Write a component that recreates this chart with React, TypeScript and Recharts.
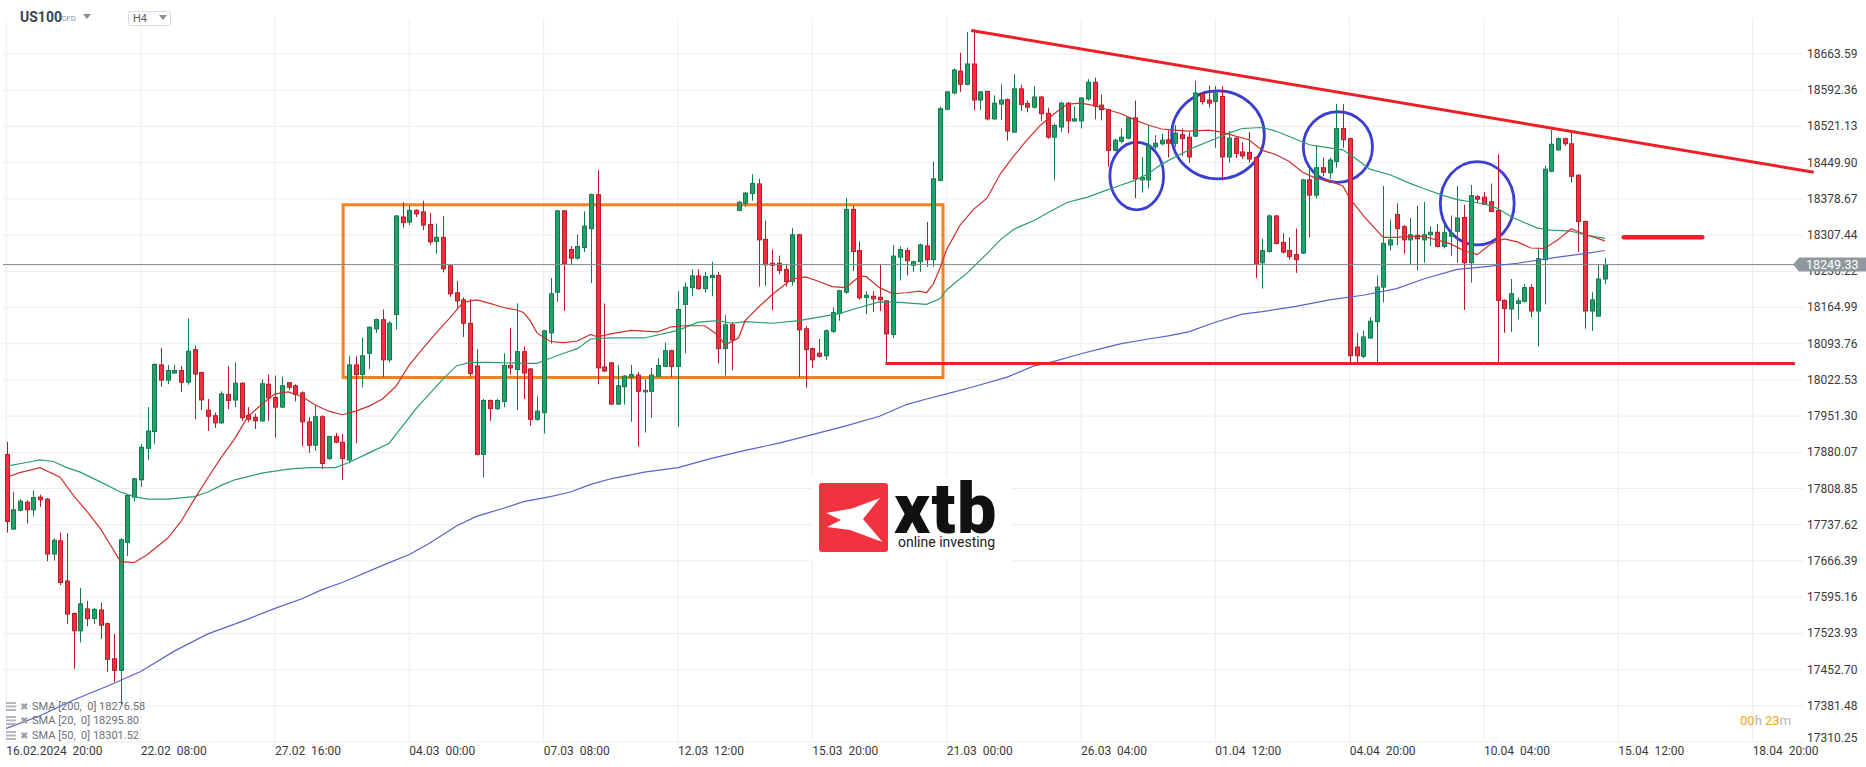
import React from 'react';
import {
  Bar,
  CartesianGrid,
  ComposedChart,
  Line,
  ReferenceArea,
  ReferenceLine,
  XAxis,
  YAxis
} from 'recharts';

// US100 H4 candles, 16.02.2024 20:00 onwards
const opens = [
  17876, 17729, 17766, 17782, 17767, 17792, 17788, 17680, 17706, 17627,
  17563, 17529, 17572, 17553, 17570, 17543, 17474, 17451, 17703, 17792,
  17826, 17888, 17921, 18052, 18022, 18036, 18041, 18018, 18082, 18037,
  17963, 17952, 17938, 17994, 17983, 18016, 17953, 17949, 17942, 18014,
  17988, 17969, 18017, 18011, 17997, 17940, 17894, 17950, 17868, 17911,
  17900, 17865, 18052, 18033, 18075, 18123, 18141, 18062, 18151, 18343,
  18333, 18356, 18353, 18328, 18295, 18303, 18247, 18194, 18180, 18134,
  18050, 17876, 17982, 17966, 17980, 18051, 18043, 18078, 18044, 17945,
  17958, 18115, 18195, 18355, 18279, 18262, 18283, 18320, 18387, 18048,
  18056, 17975, 18009, 18028, 18032, 17999, 18000, 18030, 18049, 18080,
  18049, 18171, 18204, 18227, 18202, 18224, 18228, 18084, 18131, 18356,
  18370, 18389, 18408, 18299, 18252, 18252, 18240, 18216, 18308, 18123,
  18084, 18075, 18070, 18118, 18153, 18195, 18358, 18277, 18185, 18187,
  18185, 18178, 18112, 18264, 18277, 18248, 18255, 18286, 18259, 18415,
  18555, 18587, 18630, 18604, 18644, 18573, 18590, 18536, 18565, 18574,
  18510, 18595, 18566, 18559, 18579, 18547, 18500, 18520, 18567, 18532,
  18532, 18575, 18608, 18563, 18554, 18474, 18492, 18498, 18538, 18416,
  18416, 18481, 18487, 18495, 18488, 18505, 18500, 18502, 18585, 18573,
  18570, 18580, 18461, 18498, 18471, 18470, 18460, 18253, 18275, 18345,
  18293, 18277, 18269, 18272, 18416, 18386, 18440, 18430, 18452, 18517,
  18497, 18087, 18069, 18105, 18137, 18205, 18288, 18348, 18324, 18298,
  18307, 18298, 18308, 18313, 18285, 18305, 18315, 18342, 18253, 18383,
  18382, 18373, 18356, 18179, 18162, 18173, 18177, 18204, 18158, 18259,
  18433, 18475, 18497, 18487, 18425, 18334, 18158, 18148, 18221
];
const highs = [
  17901, 17802, 17788, 17786, 17805, 17797, 17790, 17711, 17722, 17721,
  17565, 17613, 17588, 17574, 17584, 17545, 17523, 17711, 17797, 17830,
  17896, 17969, 18055, 18085, 18052, 18052, 18050, 18143, 18090, 18039,
  17985, 17958, 18000, 18050, 18057, 18018, 17969, 17956, 18024, 18033,
  18031, 18029, 18018, 18014, 18000, 17949, 17973, 17953, 17913, 17918,
  17916, 18070, 18069, 18106, 18128, 18143, 18161, 18138, 18347, 18372,
  18365, 18358, 18375, 18351, 18330, 18345, 18249, 18217, 18185, 18182,
  18083, 17985, 17984, 17985, 18075, 18125, 18173, 18088, 18046, 17990,
  18121, 18223, 18357, 18357, 18286, 18308, 18354, 18389, 18435, 18173,
  18058, 18052, 18032, 18052, 18038, 18024, 18046, 18065, 18096, 18082,
  18197, 18214, 18240, 18240, 18235, 18255, 18235, 18150, 18136, 18375,
  18392, 18427, 18418, 18336, 18279, 18267, 18250, 18321, 18310, 18129,
  18086, 18103, 18122, 18165, 18200, 18380, 18365, 18295, 18197, 18197,
  18250, 18180, 18288, 18285, 18283, 18257, 18291, 18333, 18452, 18560,
  18591, 18635, 18666, 18707, 18712, 18591, 18591, 18582, 18604, 18576,
  18624, 18603, 18572, 18600, 18581, 18558, 18527, 18570, 18569, 18560,
  18579, 18614, 18617, 18584, 18556, 18497, 18517, 18540, 18572, 18461,
  18524, 18504, 18507, 18514, 18524, 18517, 18510, 18611, 18589, 18601,
  18601, 18600, 18512, 18500, 18490, 18510, 18462, 18300, 18348, 18347,
  18311, 18303, 18320, 18418, 18437, 18484, 18460, 18460, 18565, 18565,
  18499, 18115, 18119, 18146, 18228, 18404, 18338, 18370, 18327, 18341,
  18365, 18373, 18325, 18329, 18327, 18346, 18404, 18367, 18406, 18386,
  18392, 18409, 18466, 18181, 18221, 18184, 18211, 18211, 18283, 18444,
  18514, 18500, 18499, 18510, 18427, 18336, 18195, 18250, 18262
];
const lows = [
  17722, 17728, 17764, 17740, 17754, 17773, 17666, 17667, 17619, 17542,
  17454, 17506, 17538, 17542, 17513, 17448, 17428, 17384, 17676, 17784,
  17812, 17865, 17897, 18009, 18014, 18035, 17999, 18013, 17945, 17963,
  17922, 17928, 17936, 17965, 17969, 17942, 17940, 17926, 17940, 17942,
  17909, 17967, 18002, 17980, 17892, 17879, 17883, 17847, 17865, 17898,
  17826, 17858, 17898, 18008, 18044, 18115, 18028, 18057, 18122, 18322,
  18327, 18343, 18317, 18288, 18271, 18234, 18186, 18165, 18107, 18029,
  17874, 17831, 17942, 17963, 17969, 18033, 17963, 17985, 17932, 17942,
  17917, 18094, 18176, 18158, 18248, 18259, 18274, 18213, 18014, 18038,
  17973, 17973, 17974, 17940, 17891, 17919, 17948, 18028, 18048, 18028,
  17930, 18075, 18187, 18200, 18194, 18187, 18055, 18031, 18041, 18354,
  18363, 18375, 18206, 18208, 18160, 18230, 18206, 18208, 18028, 18007,
  18046, 18067, 18062, 18115, 18139, 18192, 18237, 18180, 18152, 18156,
  18158, 18055, 18105, 18218, 18228, 18235, 18235, 18245, 18245, 18413,
  18553, 18584, 18589, 18602, 18553, 18553, 18533, 18534, 18534, 18493,
  18508, 18552, 18549, 18556, 18532, 18497, 18415, 18510, 18508, 18530,
  18517, 18572, 18535, 18533, 18442, 18472, 18488, 18496, 18380, 18391,
  18399, 18476, 18484, 18460, 18481, 18463, 18450, 18500, 18564, 18558,
  18479, 18415, 18450, 18459, 18457, 18450, 18223, 18202, 18273, 18289,
  18271, 18259, 18233, 18270, 18303, 18380, 18423, 18418, 18440, 18479,
  18057, 18057, 18065, 18103, 18051, 18175, 18277, 18288, 18271, 18250,
  18238, 18253, 18286, 18283, 18281, 18267, 18253, 18160, 18214, 18370,
  18367, 18352, 18057, 18115, 18117, 18142, 18175, 18146, 18088, 18171,
  18431, 18473, 18483, 18411, 18274, 18123, 18119, 18146, 18211
];
const closes = [
  17744, 17767, 17784, 17767, 17791, 17787, 17680, 17707, 17624, 17562,
  17529, 17582, 17553, 17571, 17540, 17473, 17451, 17708, 17795, 17828,
  17890, 17922, 18053, 18022, 18041, 18041, 18018, 18079, 18034, 17983,
  17951, 17938, 17995, 17982, 18016, 17948, 17945, 17942, 18015, 17987,
  17969, 18011, 18008, 17994, 17940, 17894, 17950, 17858, 17911, 17900,
  17868, 18052, 18033, 18070, 18126, 18141, 18062, 18134, 18345, 18332,
  18356, 18349, 18327, 18294, 18303, 18241, 18192, 18178, 18134, 18035,
  17876, 17982, 17966, 17982, 18051, 18046, 18078, 18036, 17945, 17961,
  18119, 18192, 18355, 18251, 18262, 18285, 18325, 18387, 18046, 18040,
  17975, 18011, 18030, 18033, 18000, 18002, 18032, 18051, 18080, 18049,
  18161, 18205, 18227, 18202, 18226, 18228, 18084, 18131, 18101, 18372,
  18390, 18409, 18298, 18249, 18248, 18238, 18216, 18308, 18121, 18082,
  18062, 18069, 18119, 18155, 18198, 18358, 18275, 18184, 18189, 18182,
  18180, 18113, 18266, 18279, 18257, 18255, 18288, 18259, 18418, 18556,
  18589, 18632, 18604, 18644, 18573, 18589, 18536, 18567, 18573, 18512,
  18595, 18564, 18559, 18579, 18546, 18500, 18523, 18567, 18532, 18536,
  18577, 18608, 18561, 18554, 18474, 18494, 18500, 18538, 18418, 18421,
  18484, 18488, 18494, 18488, 18508, 18497, 18461, 18587, 18570, 18567,
  18587, 18461, 18498, 18468, 18463, 18457, 18250, 18277, 18345, 18291,
  18274, 18265, 18259, 18416, 18386, 18440, 18431, 18455, 18517, 18495,
  18070, 18070, 18107, 18138, 18205, 18291, 18298, 18320, 18298, 18308,
  18300, 18308, 18313, 18285, 18312, 18310, 18341, 18253, 18385, 18378,
  18368, 18354, 18179, 18163, 18192, 18178, 18204, 18158, 18261, 18437,
  18486, 18497, 18487, 18423, 18334, 18158, 18180, 18221, 18249.33
];

// moving averages, read at candle index -> value
const sma20Pts: [number, number][] = [
  [0, 17831], [2, 17840], [5, 17850], [8, 17831], [10, 17795], [12, 17764], [14, 17730],
  [16, 17687], [17, 17665], [19, 17663], [21, 17679], [24, 17711], [26, 17744], [28, 17788],
  [30, 17830], [32, 17870], [34, 17907], [36, 17951], [38, 17974], [40, 17995], [42, 17999],
  [44, 17990], [46, 17973], [48, 17961], [50, 17954], [52, 17961], [54, 17971], [56, 17985],
  [58, 18010], [60, 18052], [62, 18084], [64, 18115], [66, 18144], [68, 18175], [70, 18180],
  [72, 18173], [74, 18165], [76, 18160], [77, 18155], [78, 18139], [79, 18115], [81, 18098],
  [83, 18096], [85, 18099], [87, 18112], [88, 18107], [90, 18113], [93, 18120], [97, 18117],
  [99, 18127], [101, 18129], [104, 18129], [106, 18110], [107, 18091], [109, 18105],
  [110, 18139], [112, 18166], [114, 18190], [116, 18211], [117, 18221], [119, 18225],
  [121, 18216], [123, 18206], [125, 18204], [127, 18226], [128, 18226], [130, 18204],
  [132, 18192], [134, 18194], [136, 18197], [137, 18194], [138, 18211], [139, 18242],
  [140, 18279], [142, 18327], [144, 18358], [146, 18380], [148, 18428], [150, 18463],
  [152, 18495], [154, 18524], [156, 18546], [158, 18565], [160, 18567], [162, 18562],
  [164, 18554], [166, 18546], [168, 18534], [170, 18524], [172, 18516], [174, 18514],
  [176, 18512], [179, 18514], [181, 18510], [183, 18502], [185, 18495], [187, 18474],
  [189, 18466], [191, 18452], [193, 18431], [195, 18419], [197, 18414], [199, 18404],
  [200, 18380], [202, 18346], [204, 18317], [205, 18303], [207, 18303], [209, 18305],
  [211, 18305], [213, 18298], [215, 18290], [217, 18277], [219, 18269], [221, 18290],
  [223, 18300], [225, 18294], [227, 18282], [229, 18281], [231, 18298], [233, 18320],
  [235, 18309], [238, 18296]
];
const sma50Pts: [number, number][] = [
  [0, 17853], [3, 17860], [5, 17865], [7, 17862], [9, 17850], [11, 17841], [14, 17822],
  [17, 17802], [19, 17793], [21, 17788], [24, 17788], [28, 17793], [30, 17802], [32, 17815],
  [34, 17826], [38, 17839], [42, 17847], [45, 17850], [49, 17850], [51, 17860], [54, 17879],
  [57, 17898], [59, 17932], [61, 17966], [63, 17995], [65, 18024], [67, 18050], [69, 18057],
  [72, 18057], [77, 18055], [79, 18055], [81, 18065], [83, 18075], [85, 18084], [87, 18103],
  [90, 18105], [95, 18105], [100, 18120], [103, 18136], [106, 18139], [108, 18134],
  [110, 18137], [114, 18134], [118, 18139], [121, 18146], [124, 18153], [127, 18165],
  [130, 18176], [133, 18175], [137, 18171], [139, 18182], [140, 18200], [143, 18232],
  [146, 18271], [148, 18298], [150, 18319], [153, 18336], [155, 18351], [158, 18372],
  [161, 18382], [163, 18392], [166, 18406], [168, 18415], [170, 18428], [172, 18447],
  [174, 18461], [177, 18481], [180, 18497], [182, 18508], [184, 18517], [187, 18519],
  [189, 18512], [192, 18496], [194, 18485], [196, 18481], [199, 18475], [201, 18457],
  [203, 18437], [206, 18426], [209, 18409], [211, 18399], [214, 18385], [216, 18377],
  [218, 18373], [220, 18369], [222, 18360], [224, 18344], [226, 18332], [228, 18321],
  [230, 18317], [233, 18315], [235, 18308], [238, 18301]
];
const sma200Pts: [number, number][] = [
  [0, 17337], [5, 17362], [10, 17393], [15, 17420], [20, 17449], [25, 17489], [30, 17523],
  [35, 17547], [40, 17573], [44, 17592], [47, 17610], [50, 17624], [57, 17663], [60, 17679],
  [63, 17701], [67, 17735], [70, 17754], [74, 17770], [77, 17783], [81, 17793], [84, 17802],
  [87, 17817], [90, 17828], [95, 17841], [100, 17850], [105, 17868], [110, 17884],
  [115, 17898], [120, 17915], [125, 17932], [130, 17951], [134, 17974], [137, 17985],
  [140, 17995], [144, 18009], [149, 18028], [153, 18050], [156, 18059], [160, 18074],
  [163, 18084], [166, 18094], [170, 18103], [173, 18109], [176, 18117], [180, 18136],
  [184, 18152], [187, 18157], [192, 18167], [197, 18180], [202, 18189], [207, 18202],
  [211, 18221], [216, 18240], [220, 18245], [225, 18252], [228, 18258], [231, 18264],
  [235, 18271], [238, 18277]
];

const yTicks = [
  17310.25, 17381.48, 17452.7, 17523.93, 17595.16, 17666.39, 17737.62, 17808.85,
  17880.07, 17951.3, 18022.53, 18093.76, 18164.99, 18236.22, 18307.44, 18378.67,
  18449.9, 18521.13, 18592.36, 18663.59
];

const xTickLabels: Record<number, string> = {
  0: '16.02.2024  20:00',
  20: '22.02  08:00',
  40: '27.02  16:00',
  60: '04.03  00:00',
  80: '07.03  08:00',
  100: '12.03  12:00',
  120: '15.03  20:00',
  140: '21.03  00:00',
  160: '26.03  04:00',
  180: '01.04  12:00',
  200: '04.04  20:00',
  220: '10.04  04:00',
  240: '15.04  12:00',
  260: '18.04  20:00'
};

const legendRows = [
  { name: 'SMA [200,  0]', value: '18276.58' },
  { name: 'SMA [20,  0]', value: '18295.80' },
  { name: 'SMA [50,  0]', value: '18301.52' }
];

const lastPrice = 18249.33;
const SLOTS = 268;
const Y_MIN = 17310.25;
const Y_MAX = 18734.4;

// drawings on the chart, in candle-index / price space
const rangeBox = { x1: 50.14, x2: 139.46, y1: 18027, y2: 18367 };
const trendLine = [{ x: 143.65, y: 18710 }, { x: 269.1, y: 18431 }];
const supportLine = [{ x: 130.9, y: 18055 }, { x: 266.3, y: 18055 }];
const targetLine = [{ x: 240.8, y: 18303 }, { x: 252.5, y: 18303 }];
const circles = [
  { x1: 164.3, x2: 172.3, y1: 18357, y2: 18490 },
  { x1: 173.5, x2: 187.3, y1: 18418, y2: 18591 },
  { x1: 193.1, x2: 203.4, y1: 18411, y2: 18550 },
  { x1: 213.5, x2: 224.5, y1: 18288, y2: 18452 }
];

const s20 = new Map(sma20Pts);
const s50 = new Map(sma50Pts);
const s200 = new Map(sma200Pts);

const rows = Array.from({ length: SLOTS }, (_, i) => {
  const has = i < opens.length;
  return {
    i,
    o: has ? opens[i] : null,
    h: has ? highs[i] : null,
    l: has ? lows[i] : null,
    c: has ? closes[i] : null,
    range: has ? [lows[i], highs[i]] : undefined,
    sma20: s20.get(i) ?? null,
    sma50: s50.get(i) ?? null,
    sma200: s200.get(i) ?? null
  };
});

const Candle = (props: any) => {
  const { x, y, width, height, payload } = props;
  if (!payload || payload.o == null) return null;
  const { o, h, l, c } = payload;
  const top = Math.min(y, y + height);
  const bottom = Math.max(y, y + height);
  const span = h - l || 1;
  const py = (v: number) => top + ((h - v) / span) * (bottom - top);
  const cx = Math.round(x + width / 2) + 0.5;
  const up = c >= o;
  const bt = py(Math.max(o, c));
  const bb = py(Math.min(o, c));
  const fill = up ? '#22a06b' : '#f3303f';
  const edge = up ? '#137a4c' : '#b51c2b';
  return (
    <g>
      <line x1={cx} x2={cx} y1={top} y2={bottom} stroke={edge} strokeWidth={1} />
      <rect
        x={cx - 2}
        y={bt}
        width={4}
        height={Math.max(bb - bt, 1)}
        fill={fill}
        stroke={edge}
        strokeWidth={1}
      />
    </g>
  );
};

const XTick = (p: any) => (
  <text
    x={p.x}
    y={p.y}
    dy={13}
    fontSize={12}
    fill="#3a3a3a"
    textAnchor="start"
    fontFamily="Roboto"
    style={{ whiteSpace: 'pre' }}
  >
    {xTickLabels[p.payload.value] ?? ''}
  </text>
);

// price axis labels; the last-price tick is drawn as the grey tag
const YTick = (p: any) => {
  const v = p.payload.value;
  if (v === lastPrice) {
    const { x, y } = p;
    return (
      <g>
        <polygon
          points={`${x - 14},${y} ${x - 8},${y - 7} ${x + 60},${y - 7} ${x + 60},${y + 7} ${x - 8},${y + 7}`}
          fill="#8e989d"
        />
        <text x={x - 1} y={y + 4.5} fontSize={12.5} fill="#fff" fontFamily="Roboto">
          {v.toFixed(2)}
        </text>
      </g>
    );
  }
  return (
    <text
      x={p.x}
      y={p.y}
      dy={v === yTicks[0] ? 0 : 4}
      fontSize={12}
      fill="#3a3a3a"
      textAnchor="start"
      fontFamily="Roboto"
    >
      {v.toFixed(2)}
    </text>
  );
};

const Ellipse = (p: any) => (
  <ellipse
    cx={p.x + p.width / 2}
    cy={p.y + p.height / 2}
    rx={Math.abs(p.width) / 2}
    ry={Math.abs(p.height) / 2}
    fill="none"
    stroke="#3b3fd1"
    strokeWidth={2.8}
  />
);

const Caret = ({ left, top }: { left: number; top: number }) => (
  <svg width={8} height={5} style={{ position: 'absolute', left, top }}>
    <polygon points="0,0 8,0 4,5" fill="#8a8f96" />
  </svg>
);

export default function App() {
  return (
    <div
      style={{
        position: 'absolute',
        left: 0,
        top: 0,
        width: 1866,
        height: 767,
        background: '#fff',
        overflow: 'hidden',
        fontFamily: 'Roboto, "Noto Sans", sans-serif'
      }}
    >
      <ComposedChart
        width={1866}
        height={767}
        data={rows}
        margin={{ top: 18, right: 0, bottom: 0, left: 3 }}
      >
        <CartesianGrid stroke="#ececec" syncWithTicks />
        <XAxis
          dataKey="i"
          interval={19}
          height={25}
          tickLine={false}
          axisLine={false}
          tickSize={0}
          tickMargin={0}
          tick={<XTick />}
        />
        <XAxis
          xAxisId="n"
          type="number"
          dataKey="i"
          domain={[-0.5, SLOTS - 0.5]}
          allowDataOverflow
          hide
        />
        <YAxis
          orientation="right"
          type="number"
          domain={[Y_MIN, Y_MAX]}
          allowDataOverflow
          ticks={[...yTicks, lastPrice]}
          interval={0}
          width={63}
          tickLine={false}
          axisLine={false}
          tickSize={0}
          tickMargin={4}
          tick={<YTick />}
        />
        <ReferenceLine y={lastPrice} stroke="#7f8b91" strokeWidth={1} />
        <Bar
          dataKey="range"
          barSize={5}
          shape={(p: any) => <Candle {...p} />}
          isAnimationActive={false}
        />
        <Line
          dataKey="sma200"
          stroke="#5a62cb"
          strokeWidth={1.2}
          dot={false}
          activeDot={false}
          connectNulls
          isAnimationActive={false}
        />
        <Line
          dataKey="sma50"
          stroke="#2a9d6c"
          strokeWidth={1.2}
          dot={false}
          activeDot={false}
          connectNulls
          isAnimationActive={false}
        />
        <Line
          dataKey="sma20"
          stroke="#cf2f2f"
          strokeWidth={1.2}
          dot={false}
          activeDot={false}
          connectNulls
          isAnimationActive={false}
        />
        <ReferenceArea
          xAxisId="n"
          x1={rangeBox.x1}
          x2={rangeBox.x2}
          y1={rangeBox.y1}
          y2={rangeBox.y2}
          fill="none"
          fillOpacity={0}
          stroke="#f7811e"
          strokeWidth={3}
          ifOverflow="visible"
        />
        {circles.map((c, k) => (
          <ReferenceArea
            key={k}
            xAxisId="n"
            x1={c.x1}
            x2={c.x2}
            y1={c.y1}
            y2={c.y2}
            shape={(p: any) => <Ellipse {...p} />}
            ifOverflow="visible"
          />
        ))}
        <ReferenceLine
          xAxisId="n"
          segment={trendLine}
          stroke="#ee1f28"
          strokeWidth={3}
          ifOverflow="visible"
        />
        <ReferenceLine
          xAxisId="n"
          segment={supportLine}
          stroke="#ee1f28"
          strokeWidth={3}
          ifOverflow="visible"
        />
        <ReferenceLine
          xAxisId="n"
          segment={targetLine}
          stroke="#ee1f28"
          strokeWidth={4.5}
          strokeLinecap="round"
          ifOverflow="visible"
        />
      </ComposedChart>

      {/* instrument header */}
      <div
        style={{
          position: 'absolute',
          left: 20,
          top: 9,
          fontSize: 14,
          fontWeight: 700,
          color: '#3d4350'
        }}
      >
        US100
      </div>
      <div
        style={{
          position: 'absolute',
          left: 61,
          top: 14,
          fontSize: 8,
          color: '#8a8f96'
        }}
      >
        CFD
      </div>
      <Caret left={83} top={14} />
      <div
        style={{
          position: 'absolute',
          left: 128,
          top: 11,
          width: 41,
          height: 13,
          border: '1px solid #d9dce0',
          borderRadius: 2,
          background: '#fff'
        }}
      >
        <span
          style={{
            position: 'absolute',
            left: 4,
            top: 0,
            fontSize: 11,
            color: '#555b66'
          }}
        >
          H4
        </span>
      </div>
      <Caret left={159} top={15} />

      {/* watermark */}
      <svg
        width={200}
        height={112}
        style={{ position: 'absolute', left: 812, top: 450 }}
      >
        <rect x={0} y={27} width={200} height={85} fill="#fff" />
        <rect x={7} y={33} width={69} height={69} rx={3} fill="#f3323f" />
        <polygon
          points="14,63 40,58.5 68,48 51,69 70.5,92 38,80 15,77 29,70"
          fill="#fff"
        />
        <text
          x={82}
          y={83}
          fontSize={70}
          fontWeight={900}
          fill="#111"
          fontFamily="Roboto"
          letterSpacing={1.5}
        >
          xtb
        </text>
        <text x={86} y={97} fontSize={14} fill="#222" fontFamily="Roboto">
          online investing
        </text>
      </svg>

      {/* indicator legend */}
      {legendRows.map((r, k) => (
        <div
          key={r.name}
          style={{
            position: 'absolute',
            left: 6,
            top: 699 + k * 14.5,
            height: 14,
            display: 'flex',
            alignItems: 'center',
            fontSize: 11,
            color: '#6b6f75',
            whiteSpace: 'pre'
          }}
        >
          <svg width={10} height={9} style={{ marginRight: 4 }}>
            <rect x={0} y={0} width={10} height={2} fill="#b4b8bd" />
            <rect x={0} y={3.5} width={10} height={2} fill="#b4b8bd" />
            <rect x={0} y={7} width={10} height={2} fill="#b4b8bd" />
          </svg>
          <span style={{ color: '#9a9ea4', marginRight: 4, fontSize: 10 }}>✖</span>
          <span>
            {r.name} {r.value}
          </span>
        </div>
      ))}

      {/* candle countdown */}
      <div
        style={{
          position: 'absolute',
          left: 1740,
          top: 713,
          fontSize: 13,
          color: '#b3b3b3',
          whiteSpace: 'pre'
        }}
      >
        <span style={{ color: '#f5a524' }}>00</span>h{' '}
        <span style={{ color: '#f5a524' }}>23</span>m
      </div>
    </div>
  );
}
